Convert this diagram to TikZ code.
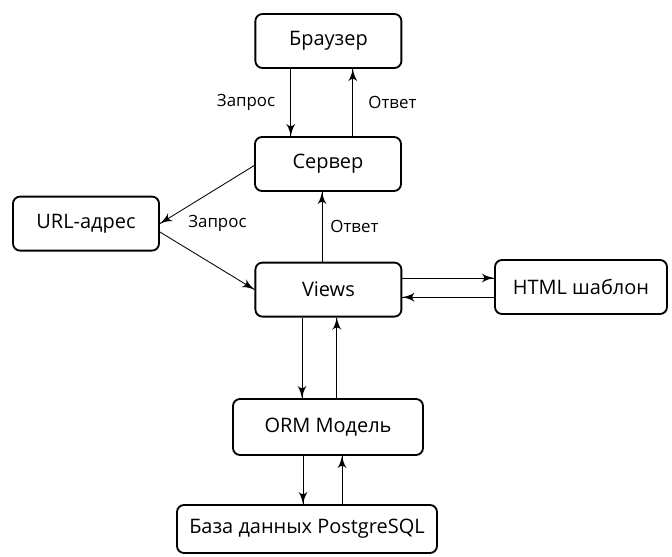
\documentclass[tikz,border=0pt]{standalone}
\usepackage{fontspec}
\setmainfont{Open Sans}
\usepackage{tikz}
\usetikzlibrary{arrows}
\usetikzlibrary{decorations.markings}
\usetikzlibrary{positioning}
\tikzset{->/.style = {decoration={markings,
                                  mark=at position 1 with {\arrow[scale=1.9]{latex'}}},
                      postaction={decorate}}}
\tikzset{box/.style = {draw, line width = 1.3pt, rounded corners = 5pt,
                       minimum width = 3.65cm, minimum height = 1.35cm,
                       font = \fontsize{14.2}{16}\selectfont}}
\tikzset{lbl/.style = {font = \fontsize{12}{14}\selectfont, inner sep = 0}}

\begin{document}
\begin{tikzpicture}[line width = 0.6pt]
      \useasboundingbox (0, 0) rectangle (16.8, 13.9);
      \node [box] (browser) at (8.21, 12.875) {Браузер};
      \node [box] (server) at (8.2, 9.8) {Сервер};
      \node [box] (url) at (2.15, 8.31) {URL-адрес};
      \node [box] (views) at (8.21, 6.66) {Views};
      \node [box, minimum width = 4.3cm] (html) at (14.525, 6.725) {HTML шаблон};
      \node [box, minimum width = 4.75cm, minimum height = 1.4cm] (orm) at (8.2, 3.225) {ORM Модель};
      \node [box, minimum width = 6.5cm, minimum height = 1.2cm] (db) at (7.675, 0.675) {База данных PostgreSQL};
      \draw [->] ([xshift = -0.94cm]browser.south) -- ([xshift = -0.94cm]browser.south |- server.north)
            node [lbl, midway, left = 0.38cm] {Запрос};
      \draw [->] ([xshift = 0.61cm]browser.south |- server.north) -- ([xshift = 0.61cm]browser.south)
            node [lbl, midway, right = 0.38cm] {Ответ};
      \draw [->] ([yshift = -0.04cm]server.west) -- (url.east);
      \draw [->] ([yshift = -0.21cm]url.east) -- (views.west);
      \node [lbl, right = 0.7cm of url] {Запрос};
      \draw [->] ([xshift = -0.16cm]views.north) -- ([xshift = -0.16cm]views.north |- server.south)
            node [lbl, midway, right = 0.2cm] {Ответ};
      \draw [->] ([yshift = 0.29cm]views.east) -- ([yshift = 0.29cm]views.east -| html.west);
      \draw [->] ([yshift = -0.19cm]views.east -| html.west) -- ([yshift = -0.19cm]views.east);
      \draw [->] ([xshift = -0.66cm]views.south) -- ([xshift = -0.66cm]views.south |- orm.north);
      \draw [->] ([xshift = 0.21cm]views.south |- orm.north) -- ([xshift = 0.21cm]views.south);
      \draw [->] ([xshift = -0.625cm]orm.south) -- ([xshift = -0.625cm]orm.south |- db.north);
      \draw [->] ([xshift = 0.35cm]orm.south |- db.north) -- ([xshift = 0.35cm]orm.south);
    \end{tikzpicture}
\end{document}
